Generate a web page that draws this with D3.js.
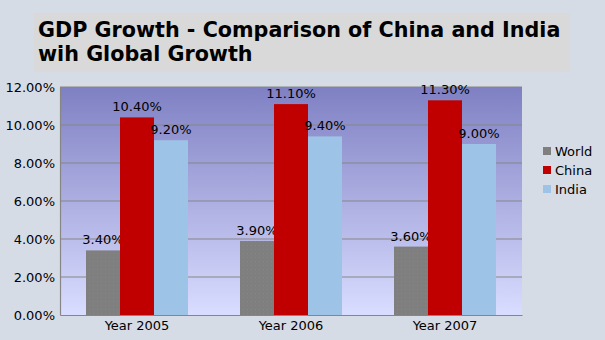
<!DOCTYPE html>
<html><head><meta charset="utf-8">
<script src="https://cdn.jsdelivr.net/npm/d3@7"></script>
<style>body{margin:0;background:#d6dce6;}svg{display:block;}</style>
</head><body>
<svg id="c" width="605" height="340"></svg>
<script>
const categories = ["Year 2005", "Year 2006", "Year 2007"];
const seriesNames = ["World", "China", "India"];
const world = [3.4, 3.9, 3.6];
const china = [10.4, 11.1, 11.3];
const india = [9.2, 9.4, 9.0];
const yTicks = [0, 2, 4, 6, 8, 10, 12];
const colors = ["#7f7f7f", "#c00000", "#9dc3e6"];
const series = [world, china, india];

const svg = d3.select("#c");
svg.append("rect").attr("width",605).attr("height",340).attr("fill","#d6dce6");
// title box
svg.append("rect").attr("x",34).attr("y",13).attr("width",536).attr("height",59).attr("fill","#d9d9d9");
const title = svg.append("text").attr("font-family","DejaVu Sans").attr("font-weight","bold").attr("font-size","20.7px").attr("fill","#000");
title.append("tspan").attr("x",38).attr("y",37).text("GDP Growth - Comparison of China and India");
title.append("tspan").attr("x",38).attr("y",61).text("wih Global Growth");

const L=60,R=522,T=87,B=315;
const defs = svg.append("defs");
const g = defs.append("linearGradient").attr("id","bg").attr("x1",0).attr("y1",0).attr("x2",0).attr("y2",1);
g.append("stop").attr("offset","0%").attr("stop-color","#7f80c3");
g.append("stop").attr("offset","100%").attr("stop-color","#d9ddff");
const pat = defs.append("pattern").attr("id","dots").attr("width",4).attr("height",4).attr("patternUnits","userSpaceOnUse");
pat.append("rect").attr("width",4).attr("height",4).attr("fill","#7f7f7f");
pat.append("rect").attr("x",1).attr("y",1).attr("width",1).attr("height",1).attr("fill","#878787");

svg.append("rect").attr("x",L).attr("y",T).attr("width",R-L).attr("height",B-T).attr("fill","url(#bg)");

const x0 = d3.scaleBand().domain(categories).range([L,R]).paddingInner(0).paddingOuter(0);
const x1 = d3.scaleBand().domain(seriesNames).range([26, x0.bandwidth()-26]);
const y = d3.scaleLinear().domain([0,12]).range([B,T]);

// gridlines
svg.append("g").selectAll("line").data(yTicks.filter(d=>d>0)).join("line")
  .attr("x1",L).attr("x2",R).attr("y1",d=>y(d)).attr("y2",d=>y(d))
  .attr("stroke","#868686").attr("stroke-width",1.2);

// bars
const groups = svg.append("g").selectAll("g").data(categories).join("g")
  .attr("transform",d=>`translate(${x0(d)},0)`);
groups.each(function(cat,i){
  const gg = d3.select(this);
  seriesNames.forEach((s,j)=>{
    const v = series[j][i];
    gg.append("rect").attr("x",x1(s)).attr("y",y(v)).attr("width",x1.bandwidth()).attr("height",B-y(v))
      .attr("fill", j===0 ? "url(#dots)" : colors[j]);
    gg.append("text").attr("x",x1(s)+x1.bandwidth()/2).attr("y",y(v)-6)
      .attr("text-anchor","middle").attr("font-family","DejaVu Sans").attr("font-size","13px").attr("fill","#000")
      .text(v.toFixed(2)+"%");
  });
});

// axes
const yAxis = d3.axisLeft(y).tickValues(yTicks).tickFormat(d=>d.toFixed(2)+"%").tickSize(0).tickPadding(5);
const ya = svg.append("g").attr("transform",`translate(${L},0)`).call(yAxis);
ya.select(".domain").attr("stroke","#868686").attr("stroke-width",1.2);
ya.selectAll("text").attr("font-family","DejaVu Sans").attr("font-size","13px").attr("fill","#000");
const xAxis = d3.axisBottom(x0).tickSize(0).tickPadding(6);
const xa = svg.append("g").attr("transform",`translate(0,${B})`).call(xAxis);
xa.select(".domain").attr("stroke","#868686").attr("stroke-width",1.2);
xa.selectAll("text").attr("font-family","DejaVu Sans").attr("font-size","13px").attr("fill","#000");

// legend
const lg = svg.append("g").selectAll("g").data(seriesNames).join("g")
  .attr("transform",(d,i)=>`translate(543,${147+i*19})`);
lg.append("rect").attr("width",8).attr("height",8).attr("fill",(d,i)=>colors[i]);
lg.append("text").attr("x",12).attr("y",4).attr("dy","0.35em").attr("font-family","DejaVu Sans").attr("font-size","13px").attr("fill","#000").text(d=>d);
</script>
</body></html>
